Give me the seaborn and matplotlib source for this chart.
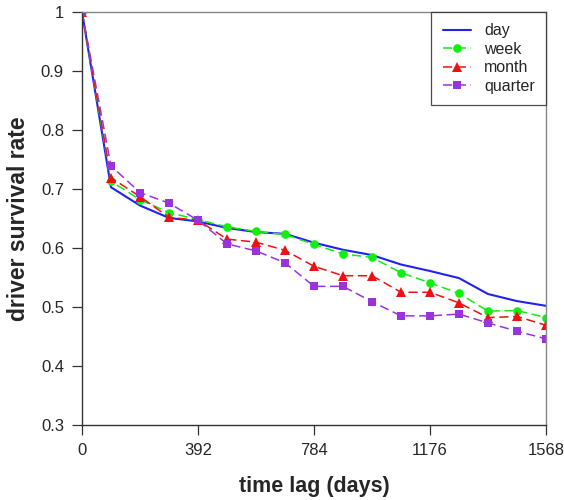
import numpy as np
import pandas as pd
import seaborn as sns
import matplotlib
matplotlib.use('Agg')
import matplotlib.pyplot as plt

# time lag in days, sampled every 98 days
lags = [0, 98, 196, 294, 392, 490, 588, 686, 784, 882, 980, 1078, 1176, 1274, 1372, 1470, 1568]

day = [1.0, 0.703, 0.672, 0.651, 0.645, 0.634, 0.627, 0.624, 0.609, 0.597, 0.588, 0.572, 0.561, 0.549, 0.522, 0.510, 0.502]
week = [1.0, 0.713, 0.682, 0.660, 0.648, 0.636, 0.628, 0.623, 0.606, 0.590, 0.584, 0.558, 0.541, 0.523, 0.493, 0.494, 0.482]
month = [1.0, 0.719, 0.687, 0.652, 0.647, 0.615, 0.610, 0.596, 0.569, 0.553, 0.553, 0.525, 0.525, 0.507, 0.482, 0.484, 0.469]
quarter = [1.0, 0.739, 0.694, 0.676, 0.647, 0.607, 0.595, 0.575, 0.535, 0.535, 0.509, 0.485, 0.485, 0.488, 0.473, 0.459, 0.446]

series_names = ['day', 'week', 'month', 'quarter']

df = pd.DataFrame({
    'lag': lags * 4,
    'rate': day + week + month + quarter,
    'series': np.repeat(series_names, len(lags)),
})

sns.set_style("ticks")
plt.rcParams['font.family'] = ['Liberation Sans', 'DejaVu Sans']

colors = {'day': '#2222ee', 'week': '#11ee11', 'month': '#ee1111', 'quarter': '#9933dd'}
markers = {'day': None, 'week': 'o', 'month': '^', 'quarter': 's'}
msizes = {'day': 0, 'week': 6.2, 'month': 6.5, 'quarter': 5.2}

fig = plt.figure(figsize=(5.64, 5.0), dpi=100)
ax = fig.add_axes([0.1454, 0.15, 0.8227, 0.826])

for name in series_names:
    sub = df[df['series'] == name]
    if name == 'day':
        sns.lineplot(data=sub, x='lag', y='rate', ax=ax, color=colors[name],
                     linewidth=1.5, label=name)
    else:
        sns.lineplot(data=sub, x='lag', y='rate', ax=ax, color=colors[name],
                     linewidth=1.1, linestyle=(0, (6, 3)), marker=markers[name],
                     markersize=msizes[name], markeredgewidth=0, label=name)

ax.set_xlim(0, 1568)
ax.set_ylim(0.3, 1.0)
ax.set_xticks([0, 392, 784, 1176, 1568])
ax.set_yticks([0.3, 0.4, 0.5, 0.6, 0.7, 0.8, 0.9, 1.0])
ax.set_yticklabels(['0.3', '0.4', '0.5', '0.6', '0.7', '0.8', '0.9', '1'])
ax.tick_params(axis='both', direction='out', length=7, width=0.9, color='#333333',
               labelsize=12, pad=6)

for side in ['top', 'right']:
    ax.spines[side].set_color('#888888')
for side in ['left', 'bottom']:
    ax.spines[side].set_color('#333333')
for s in ax.spines.values():
    s.set_linewidth(1.0)
    s.set_visible(True)

ax.set_xlabel('time lag (days)', fontsize=15.5, fontweight='bold', labelpad=13)
ax.set_ylabel('driver survival rate', fontsize=16.5, fontweight='bold', labelpad=8)

leg = ax.legend(loc='upper right', fontsize=11.5, frameon=True, fancybox=False,
                borderaxespad=0, handlelength=1.8, labelspacing=0.22,
                borderpad=0.7, handletextpad=0.8)
leg.get_frame().set_edgecolor('#222222')
leg.get_frame().set_linewidth(0.9)

fig.savefig('out.png', dpi=100)
